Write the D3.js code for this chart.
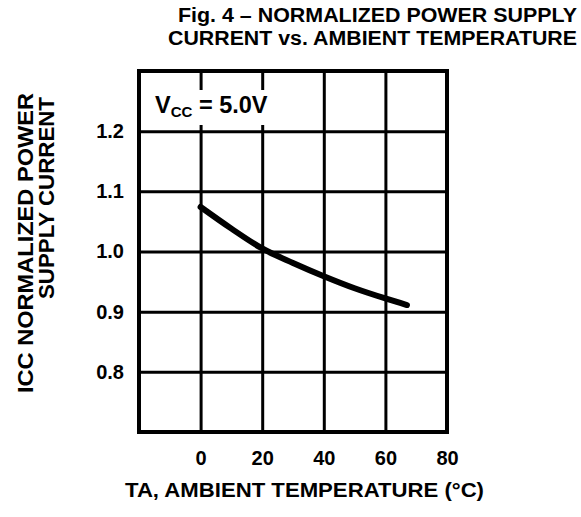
<!DOCTYPE html>
<html>
<head>
<meta charset="utf-8">
<script src="https://cdn.jsdelivr.net/npm/d3@7"></script>
<style>
  body { margin: 0; background: #fff; }
  svg { display: block; font-family: "Liberation Sans", Arial, Helvetica, sans-serif; }
  .grid line { stroke: #000; stroke-width: 3; }
  .grid path { display: none; }
  .grid text { font-size: 20px; font-weight: bold; fill: #000; }
</style>
</head>
<body>
<svg id="chart" width="581" height="517"></svg>
<script>
// --- data ---
const tempTicks = [0, 20, 40, 60, 80];
const currentTicks = [0.8, 0.9, 1.0, 1.1, 1.2];
const curveTemp = [0, 10, 20, 30, 40, 50, 60, 67];
const curveCurrent = [1.074, 1.038, 1.005, 0.981, 0.959, 0.939, 0.922, 0.911];

const svg = d3.select("#chart");
const plotLeft = 139, plotRight = 447, plotTop = 71, plotBottom = 432;

const x = d3.scaleLinear().domain([-20, 80]).range([plotLeft, plotRight]);
const y = d3.scaleLinear().domain([0.7, 1.3]).range([plotBottom, plotTop]);

// grid + tick labels
svg.append("g").attr("class", "grid")
    .attr("transform", `translate(0,${plotBottom})`)
    .call(d3.axisBottom(x).tickValues(tempTicks).tickSize(-(plotBottom - plotTop)).tickPadding(19).tickFormat(d3.format("d")));

svg.append("g").attr("class", "grid")
    .attr("transform", `translate(${plotLeft},0)`)
    .call(d3.axisLeft(y).tickValues(currentTicks).tickSize(-(plotRight - plotLeft)).tickPadding(15).tickFormat(d3.format(".1f")));

// white box behind the Vcc label (it breaks the grid lines)
svg.append("rect").attr("x", 150).attr("y", 90).attr("width", 128).attr("height", 35).attr("fill", "#fff");

const vcc = svg.append("text").attr("x", 155).attr("y", 113)
    .attr("font-size", 23.5).attr("font-weight", "bold");
vcc.append("tspan").text("V");
vcc.append("tspan").attr("dy", 4).attr("font-size", 15).text("CC");
vcc.append("tspan").attr("dy", -4).text(" = 5.0V");

// frame
svg.append("rect").attr("x", plotLeft).attr("y", plotTop)
    .attr("width", plotRight - plotLeft).attr("height", plotBottom - plotTop)
    .attr("fill", "none").attr("stroke", "#000").attr("stroke-width", 4);

// curve
const pts = curveTemp.map((t, i) => [t, curveCurrent[i]]);
svg.append("path").datum(pts)
    .attr("d", d3.line().x(d => x(d[0])).y(d => y(d[1])).curve(d3.curveMonotoneX))
    .attr("fill", "none").attr("stroke", "#000").attr("stroke-width", 6).attr("stroke-linecap", "round");

// title
const title = svg.append("text").attr("text-anchor", "end").attr("font-size", 20).attr("font-weight", "bold");
title.append("tspan").attr("x", 577).attr("y", 22)
    .attr("textLength", 399).attr("lengthAdjust", "spacingAndGlyphs")
    .text("Fig. 4 – NORMALIZED POWER SUPPLY");
title.append("tspan").attr("x", 577).attr("y", 45)
    .attr("textLength", 409).attr("lengthAdjust", "spacingAndGlyphs")
    .text("CURRENT vs. AMBIENT TEMPERATURE");

// x axis title
svg.append("text").attr("x", 125).attr("y", 497).attr("font-size", 21).attr("font-weight", "bold")
    .attr("textLength", 359).attr("lengthAdjust", "spacingAndGlyphs")
    .text("TA, AMBIENT TEMPERATURE (°C)");

// y axis title (two rotated lines)
svg.append("text").attr("transform", "translate(33,243) rotate(-90)")
    .attr("text-anchor", "middle").attr("font-size", 22).attr("font-weight", "bold")
    .attr("textLength", 300).attr("lengthAdjust", "spacingAndGlyphs")
    .text("ICC NORMALIZED POWER");
svg.append("text").attr("transform", "translate(54,198) rotate(-90)")
    .attr("text-anchor", "middle").attr("font-size", 22).attr("font-weight", "bold")
    .attr("textLength", 202).attr("lengthAdjust", "spacingAndGlyphs")
    .text("SUPPLY CURRENT");
</script>
</body>
</html>
